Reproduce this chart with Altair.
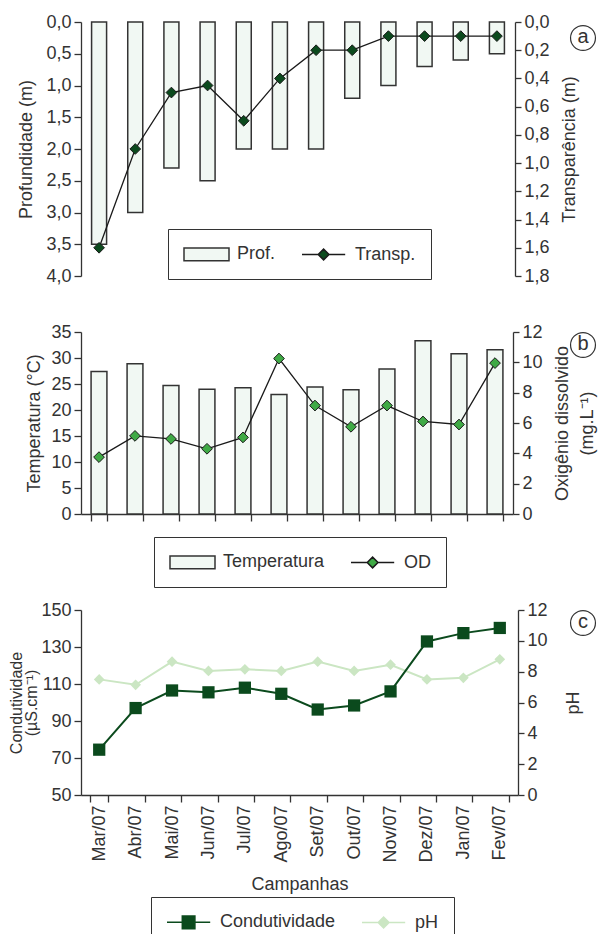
import altair as alt
import pandas as pd

# ---------------- data ----------------
months = ["Mar/07", "Abr/07", "Mai/07", "Jun/07", "Jul/07", "Ago/07",
          "Set/07", "Out/07", "Nov/07", "Dez/07", "Jan/07", "Fev/07"]
profundidade = [3.5, 3.0, 2.3, 2.5, 2.0, 2.0, 2.0, 1.2, 1.0, 0.7, 0.6, 0.5]
transparencia = [1.6, 0.9, 0.5, 0.45, 0.7, 0.4, 0.2, 0.2, 0.1, 0.1, 0.1, 0.1]
temperatura = [27.4, 28.9, 24.7, 24.0, 24.3, 23.0, 24.4, 23.9, 27.9, 33.3, 30.8, 31.6]
oxigenio = [3.75, 5.15, 4.95, 4.3, 5.05, 10.25, 7.15, 5.75, 7.15, 6.1, 5.9, 9.95]
condutividade = [74.5, 97.0, 106.5, 105.5, 108.0, 104.7, 96.2, 98.4, 106.0, 133.0, 137.5, 140.3]
ph = [7.5, 7.15, 8.65, 8.05, 8.15, 8.05, 8.65, 8.05, 8.45, 7.5, 7.6, 8.8]

ticks_prof = [0.0, 0.5, 1.0, 1.5, 2.0, 2.5, 3.0, 3.5, 4.0]
ticks_transp = [0.0, 0.2, 0.4, 0.6, 0.8, 1.0, 1.2, 1.4, 1.6, 1.8]
ticks_temp = [0, 5, 10, 15, 20, 25, 30, 35]
ticks_od = [0, 2, 4, 6, 8, 10, 12]
ticks_cond = [50, 70, 90, 110, 130, 150]
ticks_ph = [0, 2, 4, 6, 8, 10, 12]

legend_a = ["Prof.", "Transp."]
legend_b = ["Temperatura", "OD"]
legend_c = ["Condutividade", "pH"]

df = pd.DataFrame({
    "mes": months, "prof": profundidade, "transp": transparencia,
    "temp": temperatura, "od": oxigenio, "cond": condutividade, "ph": ph,
})

# ---------------- style ----------------
FONT = "Liberation Sans"
TXT = "#333333"
EDGE = "#333333"
BAR_FILL = "#f1f8f3"
DARK = "#0b4a1d"
OD_GREEN = "#3faa45"
PH_LIGHT = "#cbe6c3"

COMMA = "replace(format(datum.value, '.1f'), '.', ',')"

# legend symbol paths (unit = 9 px), drawn to the right of the nominal symbol box
RECT = "M-1,-0.7H4V0.7H-1Z"
LINE_DIAMOND = "M-1,0H0.8M2,0H3.8M0.8,0L1.4,-0.6L2,0L1.4,0.6Z"
LINE_SQUARE = "M-1,0H0.7M2.1,0H3.8M0.7,-0.7H2.1V0.7H0.7Z"


def xenc(inner, axis):
    return alt.X("mes:N", sort=months, axis=axis,
                 scale=alt.Scale(paddingInner=inner, paddingOuter=inner / 2))


def legend_layer(field, names, fills, strokes, shapes, lx, ly):
    d = pd.DataFrame({field: names})
    leg = alt.Legend(orient="none", legendX=lx, legendY=ly, direction="horizontal",
                     title=None, strokeColor=EDGE, padding=15, symbolSize=324,
                     symbolStrokeWidth=1.5, labelFont=FONT, labelFontSize=18,
                     labelColor=TXT, labelOffset=34, columnPadding=23,
                     symbolOpacity=1)
    return alt.Chart(d).mark_point(opacity=0, filled=True).encode(
        fill=alt.Fill(f"{field}:N", sort=names, scale=alt.Scale(domain=names, range=fills), legend=leg),
        stroke=alt.Stroke(f"{field}:N", sort=names, scale=alt.Scale(domain=names, range=strokes), legend=leg),
        shape=alt.Shape(f"{field}:N", sort=names, scale=alt.Scale(domain=names, range=shapes), legend=leg),
    )


def tag(letter, cx, cy):
    d = pd.DataFrame({"t": [letter]})
    circ = alt.Chart(d).mark_point(shape="circle", filled=False, size=620,
                                   stroke=EDGE, strokeWidth=1.2, opacity=1).encode(
        x=alt.value(cx), y=alt.value(cy))
    txt = alt.Chart(d).mark_text(font=FONT, fontSize=20, color=TXT,
                                 baseline="middle", align="center", dy=-1).encode(
        x=alt.value(cx), y=alt.value(cy), text="t:N")
    return circ + txt


def left_axis(values, title, expr=None, pad=10, **extra):
    kw = dict(values=values, title=title, tickSize=7, labelPadding=3,
              titlePadding=pad, labelOverlap=False)
    kw.update(extra)
    if expr:
        kw["labelExpr"] = expr
    return alt.Axis(orient="left", **kw)


def right_axis(values, title, expr=None, pad=11):
    kw = dict(values=values, title=title, tickSize=6, labelPadding=3,
              titlePadding=pad, titleAngle=270, titleBaseline="top",
              labelOverlap=False, titleLineHeight=25)
    if expr:
        kw["labelExpr"] = expr
    return alt.Axis(orient="right", **kw)


# ---------------- panel a ----------------
base_a = alt.Chart(df)
bars_a = base_a.mark_bar(fill=BAR_FILL, stroke=EDGE, strokeWidth=1.5).encode(
    x=xenc(0.585, None),
    y=alt.Y("prof:Q", scale=alt.Scale(domain=[0, 4], reverse=True, nice=False),
            axis=left_axis(ticks_prof, "Profundidade (m)", COMMA)),
)
line_a = base_a.mark_line(color="#1a1a1a", strokeWidth=1.3, point=alt.OverlayMarkDef(
    shape="diamond", filled=True, fill=DARK, stroke="#1a1a1a", strokeWidth=1, size=115, opacity=1)).encode(
    x=xenc(0.585, None),
    y=alt.Y("transp:Q", scale=alt.Scale(domain=[0, 1.8], reverse=True, nice=False),
            axis=right_axis(ticks_transp, "Transparência (m)", COMMA)),
)
leg_a = legend_layer("serie_a", legend_a, [BAR_FILL, DARK], [EDGE, "#1a1a1a"],
                     [RECT, LINE_DIAMOND], 87, 207)
panel_a = alt.layer(bars_a, line_a, leg_a, tag("a", 502, 16)).resolve_scale(
    y="independent").properties(width=434, height=254)

# ---------------- panel b ----------------
base_b = alt.Chart(df)
xaxis_b = alt.Axis(title=None, labels=False, tickBand="extent", tickSize=7, domainWidth=1.3)
bars_b = base_b.mark_bar(fill=BAR_FILL, stroke=EDGE, strokeWidth=1.5).encode(
    x=xenc(0.56, xaxis_b),
    y=alt.Y("temp:Q", scale=alt.Scale(domain=[0, 35], nice=False),
            axis=left_axis(ticks_temp, "Temperatura (°C)", pad=7)),
)
line_b = base_b.mark_line(color="#1a1a1a", strokeWidth=1.3, point=alt.OverlayMarkDef(
    shape="diamond", filled=True, fill=OD_GREEN, stroke="#1a1a1a", strokeWidth=1, size=115, opacity=1)).encode(
    x=xenc(0.56, xaxis_b),
    y=alt.Y("od:Q", scale=alt.Scale(domain=[0, 12], nice=False),
            axis=right_axis(ticks_od, ["Oxigênio dissolvido", "(mg.L⁻¹)"], pad=-14)),
)
leg_b = legend_layer("serie_b", legend_b, [BAR_FILL, OD_GREEN], [EDGE, "#1a1a1a"],
                     [RECT, LINE_DIAMOND], 73, 205)
panel_b = alt.layer(bars_b, line_b, leg_b, tag("b", 502, 13)).resolve_scale(
    y="independent").properties(width=432, height=182,
                                title=alt.TitleParams(" ", fontSize=1, offset=24))

# ---------------- panel c ----------------
base_c = alt.Chart(df)
xaxis_c = alt.Axis(title="Campanhas", labelAngle=270, tickBand="extent", tickSize=7,
                   labelPadding=3, titlePadding=13, domainWidth=1.3)
ph_c = base_c.mark_line(color=PH_LIGHT, strokeWidth=2, point=alt.OverlayMarkDef(
    shape="diamond", filled=True, fill=PH_LIGHT, size=115, opacity=1)).encode(
    x=xenc(0.5, xaxis_c),
    y=alt.Y("ph:Q", scale=alt.Scale(domain=[0, 12], nice=False),
            axis=right_axis(ticks_ph, "pH", pad=17)),
)
cond_c = base_c.mark_line(color=DARK, strokeWidth=2, point=alt.OverlayMarkDef(
    shape="square", filled=True, fill=DARK, size=150, opacity=1)).encode(
    x=xenc(0.5, xaxis_c),
    y=alt.Y("cond:Q", scale=alt.Scale(domain=[50, 150], nice=False),
            axis=left_axis(ticks_cond, ["Condutividade", "(µS.cm⁻¹)"], pad=1,
                           titleLineHeight=15, titleFontSize=16)),
)
leg_c = legend_layer("serie_c", legend_c, [DARK, PH_LIGHT], [DARK, PH_LIGHT],
                     [LINE_SQUARE, LINE_DIAMOND], 70, 287)
panel_c = alt.layer(ph_c, cond_c, leg_c, tag("c", 502, 13)).resolve_scale(
    y="independent").properties(width=437, height=185)

chart = alt.vconcat(panel_a, panel_b, panel_c, spacing=13).resolve_scale(
    fill="independent", stroke="independent", shape="independent"
).resolve_legend(
    fill="independent", stroke="independent", shape="independent"
).properties(padding={"left": 0, "top": 5, "right": 0, "bottom": -14}).configure(
    font=FONT
).configure_axis(
    labelFont=FONT, titleFont=FONT, labelFontSize=18, titleFontSize=18,
    labelColor=TXT, titleColor=TXT, titleFontWeight="normal",
    domainColor=EDGE, tickColor=EDGE, domainWidth=1.3, tickWidth=1.3, grid=False,
).configure_view(stroke=None)

chart.save("out.html", embed_options={"renderer": "svg", "actions": False})
